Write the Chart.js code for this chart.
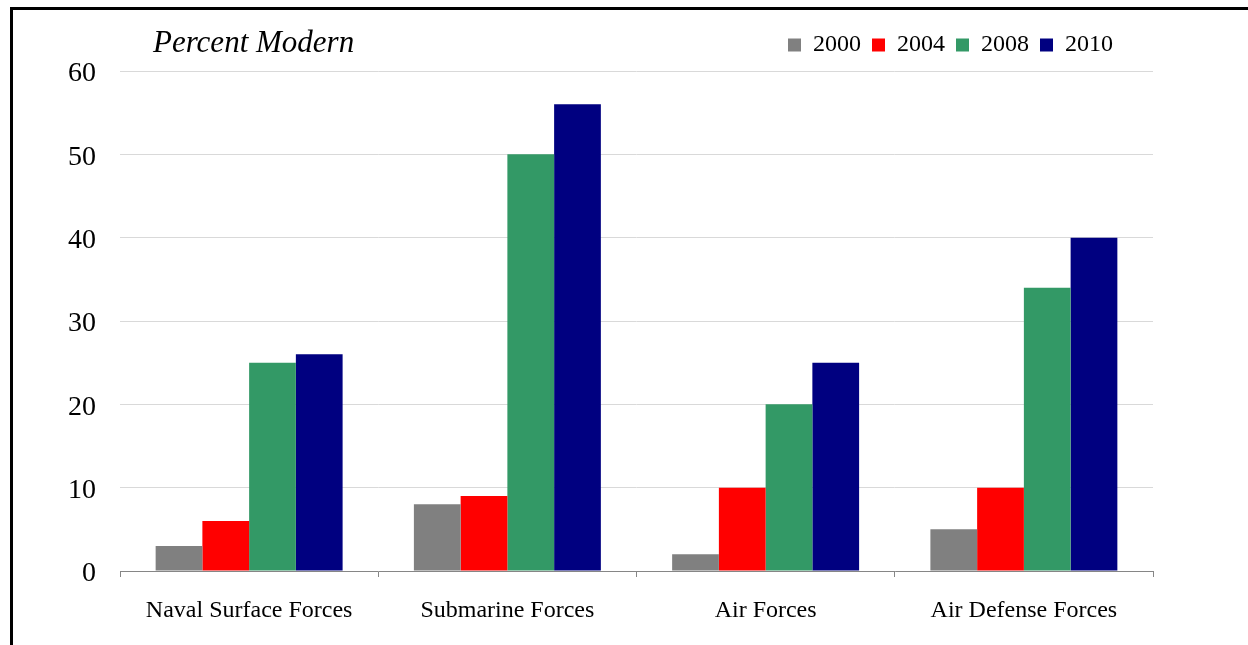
<!DOCTYPE html>
<html>
<head>
<meta charset="utf-8">
<script src="https://cdn.jsdelivr.net/npm/chart.js@4.4.0/dist/chart.umd.min.js"></script>
<style>
  html, body { margin: 0; padding: 0; background: #ffffff; }
  #wrap { position: relative; width: 1248px; height: 645px; overflow: hidden; }
  #frame { position: absolute; left: 10px; top: 7px; width: 1300px; height: 700px;
           border-left: 3px solid #000; border-top: 3px solid #000; box-sizing: border-box; }
  #c { position: absolute; left: 0; top: 0; }
</style>
</head>
<body>
<div id="wrap">
  <div id="frame"></div>
  <canvas id="c" width="1248" height="645"></canvas>
</div>
<script>
const categories = ["Naval Surface Forces", "Submarine Forces", "Air Forces", "Air Defense Forces"];
const seriesNames = ["2000", "2004", "2008", "2010"];
const values2000 = [3, 8, 2, 5];
const values2004 = [6, 9, 10, 10];
const values2008 = [25, 50, 20, 34];
const values2010 = [26, 56, 25, 40];
const seriesColors = ["#808080", "#FF0000", "#339966", "#000080"];
const yTicks = [0, 10, 20, 30, 40, 50, 60];
const chartTitle = "Percent Modern";

const FONT = "'Liberation Serif', 'Times New Roman', serif";
const allValues = [values2000, values2004, values2008, values2010];

const placeBoxes = {
  id: 'placeBoxes',
  afterLayout(chart) {
    const t = chart.titleBlock;
    if (t) {
      t.left = 153; t.right = 600; t.top = 31; t.bottom = 57;
      t.width = t.right - t.left; t.height = t.bottom - t.top;
    }
    const l = chart.legend;
    if (l) {
      l.left = 700; l.right = 1124; l.top = 22; l.bottom = 68;
      l.width = l.right - l.left; l.height = l.bottom - l.top;
    }
  }
};

new Chart(document.getElementById('c'), {
  type: 'bar',
  data: {
    labels: categories,
    datasets: seriesNames.map((name, i) => ({
      label: name,
      data: allValues[i],
      backgroundColor: seriesColors[i],
      borderWidth: 0,
      categoryPercentage: 0.724,
      barPercentage: 1.0
    }))
  },
  options: {
    responsive: false,
    devicePixelRatio: 1,
    animation: false,
    layout: { padding: { left: 0, right: 95, top: 0, bottom: 0 } },
    plugins: {
      title: {
        display: true,
        text: chartTitle,
        align: 'start',
        color: '#000',
        padding: { top: 0, bottom: 0 },
        font: { family: FONT, size: 31, style: 'italic', weight: 'normal', lineHeight: '26px' }
      },
      legend: {
        display: true,
        position: 'top',
        align: 'end',
        labels: {
          color: '#000',
          boxWidth: 13,
          boxHeight: 13,
          padding: 11,
          font: { family: FONT, size: 24 }
        }
      },
      tooltip: { enabled: false }
    },
    scales: {
      x: {
        afterFit(scale) { scale.height = 74; },
        grid: {
          display: true,
          offset: true,
          drawOnChartArea: false,
          drawTicks: true,
          tickLength: 6,
          color: '#868686',
          lineWidth: 1
        },
        border: { display: true, color: '#868686', width: 1 },
        ticks: {
          color: '#000',
          padding: 19,
          maxRotation: 0,
          font: { family: FONT, size: 24 }
        }
      },
      y: {
        min: 0,
        max: 60,
        afterFit(scale) { scale.width = 120; },
        afterBuildTicks(scale) { scale.ticks = yTicks.map(v => ({ value: v })); },
        grid: {
          color: '#d9d9d9',
          lineWidth: 1,
          drawTicks: false
        },
        border: { display: false },
        ticks: {
          color: '#000',
          padding: 24,
          labelOffset: 3,
          font: { family: FONT, size: 28 }
        }
      }
    }
  },
  plugins: [placeBoxes]
});
</script>
</body>
</html>
